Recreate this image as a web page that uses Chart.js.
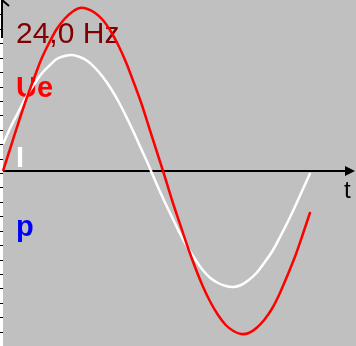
<!DOCTYPE html>
<html>
<head>
<meta charset="utf-8">
<script src="https://cdn.jsdelivr.net/npm/chart.js@4"></script>
<style>
    body { margin: 0; background: #c0c0c0; }
    canvas { display: block; }
</style>
</head>
<body>
<canvas id="scopeChart" width="356" height="346"></canvas>
<script>
// Oscilloscope data (time in ms, one period at 24 Hz)
const timeMs = [0, 1, 2, 3, 4, 5, 6, 7, 8, 9, 10, 11, 12, 13, 14, 15, 16, 17, 18, 19, 20,
    21, 22, 23, 24, 25, 26, 27, 28, 29, 30, 31, 32, 33, 34, 35, 36, 37, 38, 39, 40];
const ueValues = [0, 24, 48, 71, 92, 112, 128, 142, 152, 159, 163, 162, 158, 151, 140, 126, 109, 89, 68, 44, 20,
    -4, -29, -52, -75, -96, -115, -131, -144, -154, -160, -163, -162, -157, -149, -138, -123, -105, -86, -64, -41];
const iValues = [27, 44, 59, 74, 86, 97, 105, 112, 115, 116, 114, 110, 103, 94, 83, 70, 55, 39, 22, 5, -13,
    -30, -46, -62, -76, -88, -99, -107, -112, -115, -116, -114, -109, -102, -92, -81, -67, -52, -36, -19, -2];
const freqText = '24,0 Hz';
const seriesNames = ['Ue', 'I', 'p'];
const axisName = 't';

const colors = {
    background: '#c0c0c0',
    freq: '#800000',
    ue: '#ff0000',
    current: '#ffffff',
    power: '#0000ff',
    axis: '#000000'
};

const FONT = '"Liberation Sans", Arial, sans-serif';

// background + axes, drawn under the traces
const scopeBackground = {
    id: 'scopeBackground',
    beforeDatasetsDraw(chart) {
        const { ctx, width, height, scales } = chart;
        const y0 = scales.y.getPixelForValue(0);
        const x0 = scales.x.getPixelForValue(0);
        ctx.save();
        ctx.fillStyle = colors.background;
        ctx.fillRect(0, 0, width, height);
        // white strip on the left edge
        ctx.fillStyle = '#ffffff';
        ctx.fillRect(0, 0, 3, height);
        // small ticks on the left edge
        ctx.fillStyle = colors.axis;
        const tickStep = height / 24;
        for (let i = 1; i < 24; i++) {
            ctx.fillRect(0, Math.round(i * tickStep), 3, 1);
        }
        // vertical axis with arrow at the top
        ctx.strokeStyle = colors.axis;
        ctx.lineWidth = 2;
        ctx.beginPath();
        ctx.moveTo(2, 0);
        ctx.lineTo(2, 38);
        ctx.moveTo(2, 0);
        ctx.lineTo(9, 6);
        ctx.stroke();
        // time axis
        ctx.beginPath();
        ctx.moveTo(x0, y0);
        ctx.lineTo(width - 8, y0);
        ctx.stroke();
        ctx.beginPath();
        ctx.moveTo(width - 1, y0);
        ctx.lineTo(width - 11, y0 - 5);
        ctx.lineTo(width - 11, y0 + 5);
        ctx.closePath();
        ctx.fillStyle = colors.axis;
        ctx.fill();
        ctx.font = '24px ' + FONT;
        ctx.fillText(axisName, 344, 198);
        // labels
        ctx.font = '30px ' + FONT;
        ctx.fillStyle = colors.freq;
        ctx.fillText(freqText, 16, 43);
        ctx.font = 'bold 29px ' + FONT;
        ctx.fillStyle = colors.ue;
        ctx.fillText(seriesNames[0], 16, 97);
        ctx.fillStyle = colors.current;
        ctx.fillText(seriesNames[1], 16, 167);
        ctx.fillStyle = colors.power;
        ctx.fillText(seriesNames[2], 16, 236);
        ctx.restore();
    }
};

const createScopeChart = () => {
    const ctx = document.getElementById('scopeChart').getContext('2d');
    return new Chart(ctx, {
        type: 'line',
        data: {
            datasets: [{
                label: seriesNames[0],
                data: timeMs.map((t, i) => ({ x: t, y: ueValues[i] })),
                borderColor: colors.ue,
                borderWidth: 2.5
            }, {
                label: seriesNames[1],
                data: timeMs.map((t, i) => ({ x: t, y: iValues[i] })),
                borderColor: colors.current,
                borderWidth: 2.5
            }]
        },
        options: {
            responsive: false,
            animation: false,
            devicePixelRatio: 1,
            layout: { padding: 0 },
            elements: {
                point: { radius: 0 },
                line: { tension: 0.3, fill: false }
            },
            plugins: {
                legend: { display: false },
                tooltip: { enabled: false }
            },
            scales: {
                x: { type: 'linear', min: -0.39, max: 45.96, display: false },
                y: { min: -175, max: 171, display: false }
            }
        },
        plugins: [scopeBackground]
    });
};

document.addEventListener('DOMContentLoaded', () => {
    const scopeChart = createScopeChart();
});
</script>
</body>
</html>
